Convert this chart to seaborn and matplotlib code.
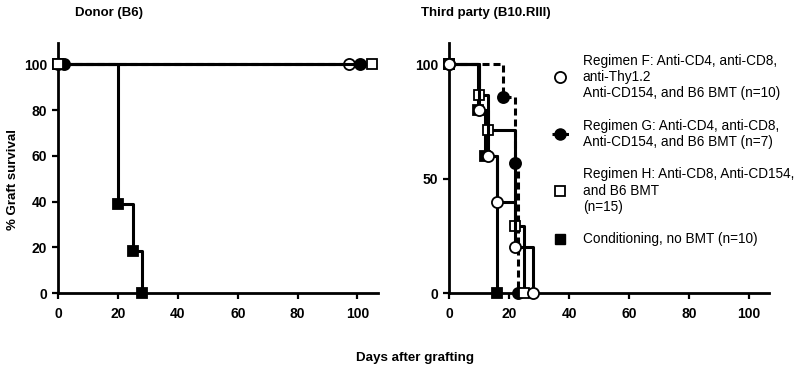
import matplotlib
matplotlib.use('agg')
import matplotlib.pyplot as plt
from matplotlib.lines import Line2D
import seaborn as sns

# group labels
labels = [
    'Regimen F: Anti-CD4, anti-CD8,\nanti-Thy1.2\nAnti-CD154, and B6 BMT (n=10)',
    'Regimen G: Anti-CD4, anti-CD8,\nAnti-CD154, and B6 BMT (n=7)',
    'Regimen H: Anti-CD8, Anti-CD154,\nand B6 BMT\n(n=15)',
    'Conditioning, no BMT (n=10)',
]

# donor (B6) grafts
donor_f_days = [0, 97]
donor_f_surv = [100, 100]
donor_g_days = [2, 101]
donor_g_surv = [100, 100]
donor_h_days = [0, 105]
donor_h_surv = [100, 100]
donor_c_days = [0, 20, 25, 28]
donor_c_surv = [100, 39, 18.5, 0]

# third party (B10.RIII) grafts
third_f_days = [0, 10, 13, 16, 22, 28]
third_f_surv = [100, 80, 60, 40, 20, 0]
third_g_days = [0, 18, 22, 23]
third_g_surv = [100, 85.7, 57.1, 0]
third_h_days = [0, 10, 13, 22, 25]
third_h_surv = [100, 86.5, 71.2, 29.3, 0]
third_c_days = [0, 9.5, 12, 16]
third_c_surv = [100, 80, 60, 0]

sns.set_style("ticks")
plt.rcParams['font.family'] = ['Liberation Sans', 'DejaVu Sans']
plt.rcParams.update({'text.color': 'black', 'axes.edgecolor': 'black',
                     'xtick.color': 'black', 'ytick.color': 'black',
                     'axes.labelcolor': 'black'})

fig = plt.figure(figsize=(8, 3.74), dpi=100)
ax1 = fig.add_axes([0.0729, 0.2158, 0.399, 0.670])
ax2 = fig.add_axes([0.5613, 0.2158, 0.40, 0.670])

styles = {
    'F': dict(marker='o', mfc='white', ls='-', z=5),
    'G': dict(marker='o', mfc='black', ls=(0, (2.3, 1.3)), z=4),
    'H': dict(marker='s', mfc='white', ls='-', z=5),
    'C': dict(marker='s', mfc='black', ls='-', z=3),
}


def km(ax, days, surv, key):
    st = styles[key]
    sns.lineplot(x=days, y=surv, ax=ax, estimator=None, sort=False,
                 drawstyle='steps-post', color='black', lw=2.2,
                 linestyle=st['ls'], marker=st['marker'],
                 markersize=8 if st['marker'] == 'o' else 7,
                 markerfacecolor=st['mfc'], markeredgecolor='black',
                 markeredgewidth=1.3, clip_on=False, zorder=st['z'])


km(ax1, donor_c_days, donor_c_surv, 'C')
km(ax1, donor_f_days, donor_f_surv, 'F')
km(ax1, donor_g_days, donor_g_surv, 'G')
km(ax1, donor_h_days, donor_h_surv, 'H')

km(ax2, third_c_days, third_c_surv, 'C')
km(ax2, third_h_days, third_h_surv, 'H')
km(ax2, third_g_days, third_g_surv, 'G')
km(ax2, third_f_days, third_f_surv, 'F')

for ax, yt in [(ax1, [0, 20, 40, 60, 80, 100]), (ax2, [0, 50, 100])]:
    ax.set_xlim(0, 106.7)
    ax.set_ylim(0, 109.4)
    ax.set_xticks([0, 20, 40, 60, 80, 100])
    ax.set_yticks(yt)
    ax.set_xlabel('')
    ax.set_ylabel('')
    sns.despine(ax=ax)
    for s in ['left', 'bottom']:
        ax.spines[s].set_linewidth(2.0)
    ax.tick_params(width=1.6, length=4, labelsize=10, pad=6)
    ax.tick_params(axis='y', pad=4)
    for t in ax.get_xticklabels() + ax.get_yticklabels():
        t.set_fontweight('bold')

fig.text(75 / 800, 1 - 13 / 374, 'Donor (B6)', fontsize=9.5, fontweight='bold',
         va='center', ha='left')
fig.text(421 / 800, 1 - 13 / 374, 'Third party (B10.RIII)', fontsize=9.5,
         fontweight='bold', va='center', ha='left')
fig.text(415 / 800, 1 - 358 / 374, 'Days after grafting', fontsize=9.6,
         fontweight='bold', va='center', ha='center')
fig.text(13 / 800, 1 - 180 / 374, '% Graft survival', fontsize=9.5,
         fontweight='bold', va='center', ha='center', rotation=90)

handles = [
    Line2D([], [], color='black', ls='none', marker='o', markersize=8,
           mfc='white', mec='black', mew=1.3),
    Line2D([], [], color='black', lw=2.2, ls=(0, (1.0, 1.2)), marker='o',
           markersize=8, mfc='black', mec='black'),
    Line2D([], [], color='black', ls='none', marker='s', markersize=7,
           mfc='white', mec='black', mew=1.3),
    Line2D([], [], color='black', ls='none', marker='s', markersize=7,
           mfc='black', mec='black'),
]
fig.legend(handles, labels, loc='upper left',
           bbox_to_anchor=(542 / 800, 1 - 44 / 374), frameon=False,
           fontsize=9.8, handlelength=1.25, handletextpad=1.04,
           labelspacing=1.37, borderaxespad=0.3)

plt.savefig('out.png', dpi=100)
plt.close()
